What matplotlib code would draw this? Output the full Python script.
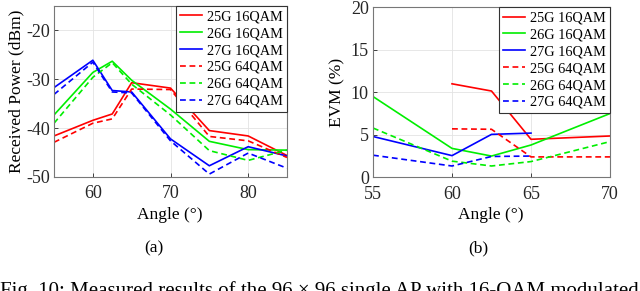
import matplotlib.pyplot as plt

plt.rcParams['font.family'] = ['Liberation Serif', 'DejaVu Serif']
plt.rcParams['mathtext.fontset'] = 'stix'

labels = ['25G 16QAM', '26G 16QAM', '27G 16QAM', '25G 64QAM', '26G 64QAM', '27G 64QAM']
colors = ['#ff0000', '#00ee00', '#0000ff', '#ff0000', '#00ee00', '#0000ff']

# (a) received power vs angle
ang_a = [55, 60, 62.5, 65, 70, 75, 80, 85]
pw_25_16 = [-41.6, -38.4, -37.1, -30.7, -31.8, -40.5, -41.6, -45.6]
pw_26_16 = [-37.3, -28.6, -26.3, -30.2, -36.1, -42.7, -44.4, -44.5]
pw_27_16 = [-31.7, -26.1, -32.3, -32.6, -42.2, -47.7, -43.8, -45.7]
pw_25_64 = [-42.9, -39.0, -38.1, -32.0, -32.1, -41.7, -42.6, -46.0]
pw_26_64 = [-39.0, -29.6, -26.6, -31.0, -37.3, -44.6, -46.6, -44.5]
pw_27_64 = [-33.1, -26.5, -32.6, -32.8, -42.6, -49.4, -45.1, -48.2]

# (b) EVM vs angle
ang_b = [55, 60, 62.5, 65, 70]
evm_25_16 = [None, 11.0, 10.15, 4.47, 4.86]
evm_26_16 = [9.5, 3.4, 2.5, 3.8, 7.5]
evm_27_16 = [4.8, 2.55, 5.05, 5.2, None]
evm_25_64 = [None, 5.7, 5.65, 2.4, 2.4]
evm_26_64 = [5.8, 1.9, 1.33, 1.85, 4.2]
evm_27_64 = [2.6, 1.33, 2.45, 2.5, None]

caption = 'Fig. 10: Measured results of the 96 \u00d7 96 single AP with 16-QAM modulated'

fig = plt.figure(figsize=(6.4, 2.91), dpi=100)
ax1 = fig.add_axes([54 / 640, 1 - 177 / 291, 233 / 640, 171 / 291])
ax2 = fig.add_axes([373 / 640, 1 - 177.3 / 291, 237 / 640, 170 / 291])


def clean(xs, ys):
    pts = [(x, y) for x, y in zip(xs, ys) if y is not None]
    return [p[0] for p in pts], [p[1] for p in pts]


series_a = [pw_25_16, pw_26_16, pw_27_16, pw_25_64, pw_26_64, pw_27_64]
series_b = [evm_25_16, evm_26_16, evm_27_16, evm_25_64, evm_26_64, evm_27_64]

for ax, xs, series in [(ax1, ang_a, series_a), (ax2, ang_b, series_b)]:
    for i, ys in enumerate(series):
        x, y = clean(xs, ys)
        ls = '-' if i < 3 else (0, (3.5, 2.2))
        ax.plot(x, y, color=colors[i], lw=1.2, linestyle=ls, label=labels[i])
    ax.grid(True, color='#e3e3e3', lw=0.6)
    ax.set_axisbelow(True)
    ax.tick_params(direction='in', length=3, width=0.6, labelsize=13,
                   colors='#262626', pad=3)
    ax.tick_params(axis='x', pad=6)
    for s in ax.spines.values():
        s.set_color('#777777')
        s.set_linewidth(0.8)
    leg = ax.legend(loc='upper right', fontsize=10.3, frameon=True, fancybox=False,
                    borderaxespad=0, handlelength=1.5, handletextpad=0.35,
                    labelspacing=0.27, borderpad=0.3, framealpha=1)
    leg.get_frame().set_edgecolor('#333333')
    leg.get_frame().set_linewidth(0.8)

ax1.set_xlim(55, 85)
ax1.set_ylim(-50, -15)
ax1.set_xticks([60, 70, 80])
ax1.set_yticks([-50, -40, -30, -20])
ax1.set_yticklabels(['-50', '-40', '-30', '-20'])
ax1.set_ylabel('Received Power (dBm)', fontsize=12.5, labelpad=1)

ax2.set_xlim(55, 70)
ax2.set_ylim(0, 20)
ax2.set_xticks([55, 60, 65, 70])
ax2.set_yticks([0, 5, 10, 15, 20])
ax2.set_ylabel('EVM (%)', fontsize=12.5, labelpad=4)

fig.text(170 / 640, 1 - 215 / 291, 'Angle (\u00b0)', ha='center', va='center', fontsize=12.5)
fig.text(491 / 640, 1 - 215 / 291, 'Angle (\u00b0)', ha='center', va='center', fontsize=12.5)
fig.text(154 / 640, 1 - 248 / 291, '(a)', ha='center', va='center', fontsize=12.5)
fig.text(478 / 640, 1 - 248 / 291, '(b)', ha='center', va='center', fontsize=12.5)
fig.text(0.0, 1 - 281 / 291, caption, ha='left', va='top', fontsize=15)

fig.savefig('out.png', dpi=100)
